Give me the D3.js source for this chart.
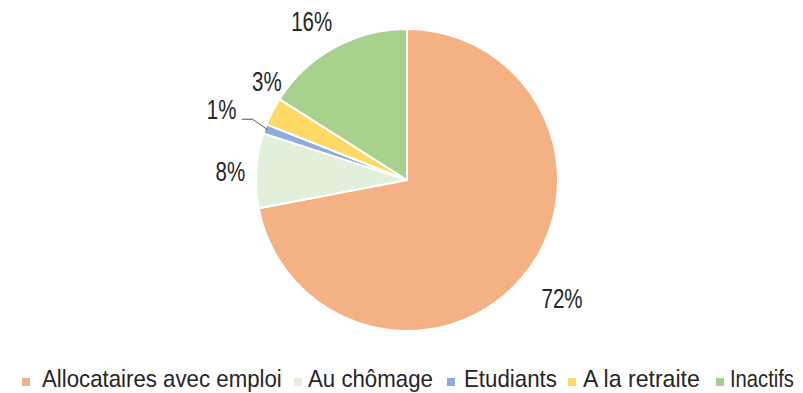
<!DOCTYPE html>
<html>
<head>
<meta charset="utf-8">
<script src="https://cdn.jsdelivr.net/npm/d3@7"></script>
<style>
  html, body { margin: 0; padding: 0; background: #fff; }
  svg text { font-family: "Liberation Sans", Arial, sans-serif; fill: #262626; }
</style>
</head>
<body>
<svg id="chart" width="803" height="393"></svg>
<script>
// Répartition des allocataires
const categories = ["Allocataires avec emploi", "Au chômage", "Etudiants", "A la retraite", "Inactifs"];
const values = [72, 8, 1, 3, 16];
const colors = ["#F4B183", "#E2EFDA", "#8FAADC", "#FFD966", "#A9D18E"];
const labels = ["72%", "8%", "1%", "3%", "16%"];

const svg = d3.select("#chart");
const cx = 407, cy = 180, r = 151;

const pie = d3.pie().sort(null).value(d => d.value);
const arcs = pie(categories.map((c, i) => ({ cat: c, value: values[i], color: colors[i], label: labels[i] })));
const arc = d3.arc().innerRadius(0).outerRadius(r);

const g = svg.append("g").attr("transform", `translate(${cx},${cy})`);
g.selectAll("path").data(arcs).join("path")
  .attr("d", arc)
  .attr("fill", d => d.data.color)
  .attr("stroke", "#fff")
  .attr("stroke-width", 2);

// Percentage labels outside the pie (radius, extra shift)
const placement = [
  { rad: r + 45, dx: 4, dy: -7 },   // 72%
  { rad: r + 28, dx: 2, dy: 3 },    // 8%
  { rad: r + 46, dx: 0, dy: -4 },   // 1%
  { rad: r + 32, dx: 23, dy: -15 }, // 3%
  { rad: r + 26, dx: -10, dy: -3 }  // 16%
];
const condensed = 0.76;
arcs.forEach((d, i) => {
  const a = (d.startAngle + d.endAngle) / 2;
  const p = placement[i];
  const x = Math.sin(a) * p.rad + p.dx;
  const y = -Math.cos(a) * p.rad + p.dy;
  g.append("text")
    .attr("transform", `translate(${x},${y}) scale(${condensed},1)`)
    .attr("text-anchor", "middle")
    .attr("dominant-baseline", "central")
    .attr("font-size", 27)
    .text(d.data.label);
  if (i === 2) {
    // leader line for the thin slice
    const ex = Math.sin(a) * (r - 3), ey = -Math.cos(a) * (r - 3);
    g.append("polyline")
      .attr("points", `${x + 20},${y + 10} ${x + 31},${y + 10} ${ex},${ey}`)
      .attr("fill", "none")
      .attr("stroke", "#595959")
      .attr("stroke-width", 1);
  }
});

// Legend: each label is condensed horizontally to its target width
const legendMarkX = [22, 294, 447, 568, 716];
const legendTextX = [42, 308, 464, 583, 730];
const legendTextW = [240, 125, 93, 117, 64];
const legend = svg.append("g").attr("transform", "translate(0,379)");
categories.forEach((c, i) => {
  legend.append("rect")
    .attr("x", legendMarkX[i]).attr("y", -1)
    .attr("width", 8).attr("height", 8)
    .attr("fill", colors[i]);
  const t = legend.append("text")
    .attr("dominant-baseline", "central")
    .attr("font-size", 24)
    .text(c);
  const natural = t.node().getComputedTextLength();
  t.attr("transform", `translate(${legendTextX[i]},0) scale(${legendTextW[i] / natural},1)`);
});
</script>
</body>
</html>
